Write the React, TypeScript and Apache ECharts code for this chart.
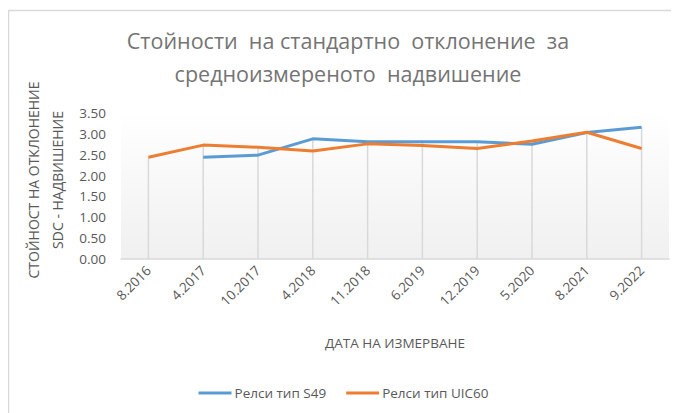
import React, { useEffect, useRef } from "react";
import * as echarts from "echarts";

const categories = ["8.2016", "4.2017", "10.2017", "4.2018", "11.2018", "6.2019", "12.2019", "5.2020", "8.2021", "9.2022"];
const s49 = [null, 2.44, 2.49, 2.88, 2.81, 2.81, 2.81, 2.75, 3.03, 3.16];
const uic60 = [2.44, 2.73, 2.68, 2.59, 2.76, 2.72, 2.65, 2.83, 3.04, 2.65];
const seriesNames = ["Релси тип S49", "Релси тип UIC60"];
const yTicks = { min: 0, max: 3.5, interval: 0.5 };

const FONT = "'Open Sans', sans-serif";

export default function App() {
  const ref = useRef<HTMLDivElement>(null);
  useEffect(() => {
    if (!ref.current) return;
    const chart = echarts.init(ref.current, null, { renderer: "svg" });
    const dropData = categories.map((_, i) => {
      const vals = [s49[i], uic60[i]].filter((v) => v !== null) as number[];
      return vals.length ? Math.max(...vals) : null;
    });
    chart.setOption({
      animation: false,
      backgroundColor: "#ffffff",
      textStyle: { fontFamily: FONT },
      graphic: [
        {
          type: "rect",
          silent: true,
          shape: { x: 0.5, y: 2.5, width: 700, height: 430 },
          style: { fill: "none", stroke: "#d9d9d9", lineWidth: 1.5 },
          z: -1,
        },
        {
          type: "text",
          x: 340,
          y: 49,
          style: {
            text: "Стойности  на стандартно  отклонение  за\nсредноизмереното  надвишение",
            fontFamily: FONT,
            fontSize: 21.5,
            fill: "#747474",
            align: "center",
            verticalAlign: "middle",
            lineHeight: 33,
          },
        },
        {
          type: "text",
          x: 37,
          y: 172,
          rotation: Math.PI / 2,
          style: {
            text: "СТОЙНОСТ НА ОТКЛОНЕНИЕ\nSDC - НАДВИШЕНИЕ",
            fontFamily: FONT,
            fontSize: 14,
            fill: "#595959",
            align: "center",
            verticalAlign: "middle",
            lineHeight: 24,
          },
        },
      ],
      grid: {
        left: 113,
        right: 10,
        top: 105,
        bottom: 154,
        show: true,
        borderWidth: 0,
        backgroundColor: new echarts.graphic.LinearGradient(0, 0, 0, 1, [
          { offset: 0, color: "#ffffff" },
          { offset: 1, color: "#f0f0f0" },
        ]),
      },
      legend: {
        data: seriesNames,
        left: "center",
        top: 373,
        icon: "rect",
        itemWidth: 33,
        itemHeight: 3,
        itemGap: 20,
        textStyle: { fontFamily: FONT, fontSize: 13.5, color: "#595959", padding: [0, 0, 0, -2] },
      },
      xAxis: {
        type: "category",
        data: categories,
        name: "ДАТА НА ИЗМЕРВАНЕ",
        nameLocation: "middle",
        nameGap: 77,
        nameTextStyle: { fontFamily: FONT, fontSize: 13.5, color: "#595959" },
        axisLine: { lineStyle: { color: "#d9d9d9", width: 1.5 } },
        axisTick: { show: false },
        splitLine: { show: false },
        axisLabel: { rotate: 45, fontFamily: FONT, fontSize: 13.5, color: "#595959", margin: 9 },
      },
      yAxis: {
        type: "value",
        min: yTicks.min,
        max: yTicks.max,
        interval: yTicks.interval,
        axisLine: { show: false },
        axisTick: { show: false },
        splitLine: { show: false },
        axisLabel: {
          fontFamily: FONT,
          fontSize: 13.5,
          color: "#595959",
          margin: 15,
          formatter: (v: number) => v.toFixed(2),
        },
      },
      series: [
        {
          name: "drop",
          type: "bar",
          data: dropData,
          barWidth: 1.5,
          silent: true,
          itemStyle: { color: "#d9d9d9" },
          z: 1,
        },
        {
          name: seriesNames[0],
          type: "line",
          data: s49,
          showSymbol: false,
          symbol: "none",
          lineStyle: { color: "#5B9BD5", width: 3 },
          itemStyle: { color: "#5B9BD5" },
          z: 3,
        },
        {
          name: seriesNames[1],
          type: "line",
          data: uic60,
          showSymbol: false,
          symbol: "none",
          lineStyle: { color: "#ED7D31", width: 3 },
          itemStyle: { color: "#ED7D31" },
          z: 4,
        },
      ],
    });
    return () => chart.dispose();
  }, []);
  return <div ref={ref} style={{ width: 671, height: 405 }} />;
}
